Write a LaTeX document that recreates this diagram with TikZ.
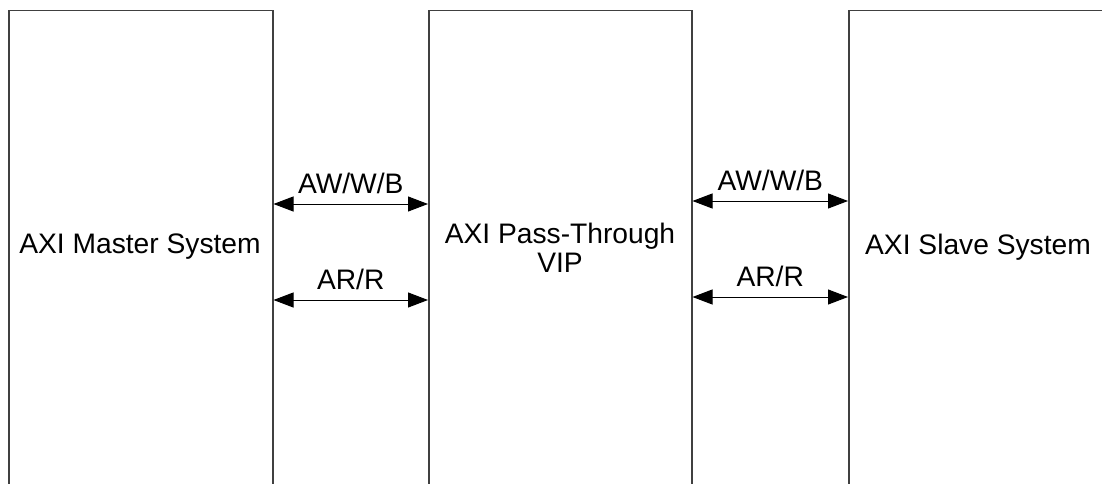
\documentclass[tikz,border=0pt]{standalone}
\usepackage{fontspec}
\setmainfont{Liberation Sans}
\usetikzlibrary{arrows.meta}
\begin{document}
\begin{tikzpicture}[x=1pt,y=-1pt,
  sysbox/.style={draw=black!75,line width=1.5pt,rectangle,inner sep=0pt,anchor=north west},
  lbl/.style={font=\fontsize{28.2}{32}\selectfont,text=black,inner sep=0pt},
  link/.style={{Triangle[length=20pt,width=15pt]}-{Triangle[length=20pt,width=15pt]},line width=1pt,black}]
\useasboundingbox (0,0) rectangle (1102,484);
\clip (0,0) rectangle (1102,484);
\node[sysbox,minimum width=264pt,minimum height=520pt] (ms) at (8,10) {};
\node[sysbox,minimum width=263pt,minimum height=520pt] (pt) at (428,10) {};
\node[sysbox,minimum width=300pt,minimum height=520pt] (ss) at (848,10) {};
\node[lbl] (mst) at (140,247) {AXI Master System};
\node[lbl,align=center] (ptt) at (560,248) {AXI Pass-Through\\[-3pt]VIP};
\node[lbl] (sst) at (978,247) {AXI Slave System};
\coordinate (l1) at (0,204);
\coordinate (l2) at (0,300);
\coordinate (r1) at (0,201);
\coordinate (r2) at (0,297);
\draw[link] (ms.east |- l1) -- node[lbl,above=10pt] (lw) {AW/W/B} (pt.west |- l1);
\draw[link] (ms.east |- l2) -- node[lbl,above=10pt] (lr) {AR/R} (pt.west |- l2);
\draw[link] (pt.east |- r1) -- node[lbl,above=10pt] (rw) {AW/W/B} (ss.west |- r1);
\draw[link] (pt.east |- r2) -- node[lbl,above=10pt] (rr) {AR/R} (ss.west |- r2);
\end{tikzpicture}
\end{document}
